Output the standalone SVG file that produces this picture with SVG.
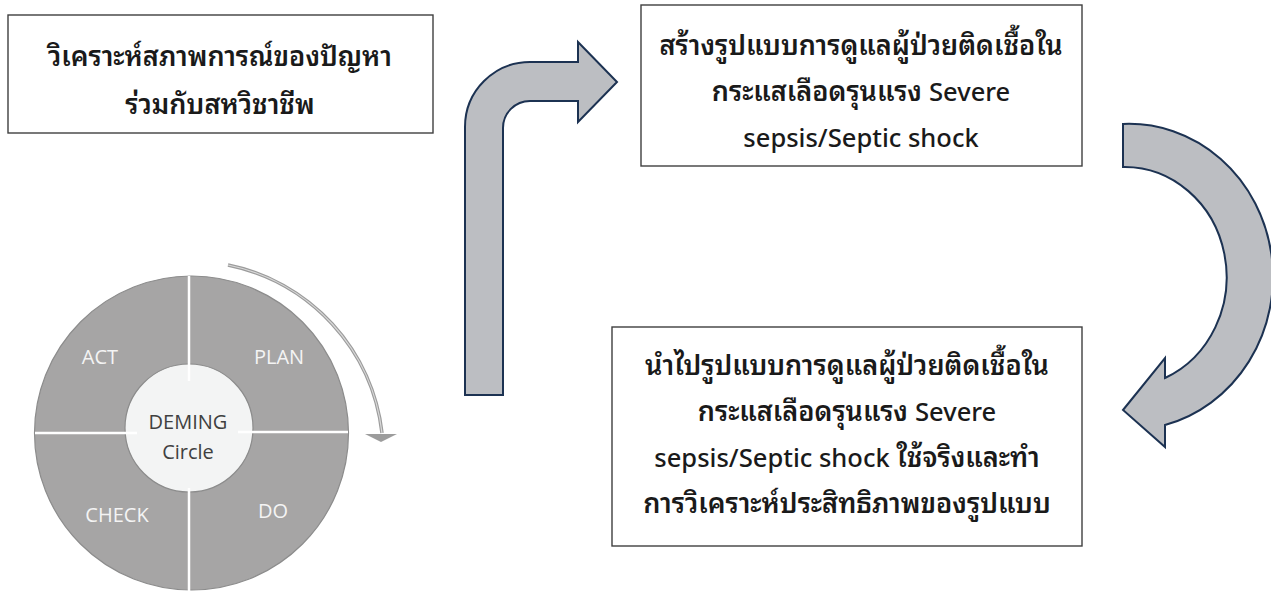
<svg xmlns="http://www.w3.org/2000/svg" width="1271" height="592" viewBox="0 0 1271 592">
<style>
.box{fill:#ffffff;stroke:#3f3f3f;stroke-width:1.4}
.t{font-family:"Noto Sans Thai Looped","Noto Sans","Noto Sans Thai","DejaVu Sans",sans-serif;font-size:27px;font-weight:600;fill:#1a1a1a;text-anchor:middle}
.en{font-size:25.5px;font-weight:500}
.big{fill:#bcbec2;stroke:#1c3252;stroke-width:2;stroke-linejoin:miter}
.lbl{font-family:"Open Sans","Liberation Sans",sans-serif;font-size:20px;fill:#f4f4f4;text-anchor:middle}
.ctr{font-family:"Open Sans","Liberation Sans",sans-serif;font-size:20px;fill:#404040;text-anchor:middle}
.sep{stroke:#ffffff;stroke-width:2.5}
</style>
<rect width="1271" height="592" fill="#ffffff"/>
<g id="connectors">
<path class="big" d="M465 395 L465 127 A65 65 0 0 1 530 62 L578 62 L578 42 L617 82 L578 122 L578 101 L530 101 A27 27 0 0 0 503 128 L503 395 Z"/>
<path class="big" d="M1123 124 A144 153 0 0 1 1165 425 L1165 447 L1123 410 L1165 358 L1165 378 A102 110 0 0 0 1123 167 Z"/>
</g>
<g id="n1">
<rect class="box" x="8" y="15" width="425" height="118"/>
<text class="t" x="220" y="66">วิเคราะห์สภาพการณ์ของปัญหา</text>
<text class="t" x="220" y="114">ร่วมกับสหวิชาชีพ</text>
</g>
<g id="n2">
<rect class="box" x="641" y="5" width="441" height="161"/>
<text class="t" x="861" y="55">สร้างรูปแบบการดูแลผู้ป่วยติดเชื้อใน</text>
<text class="t" x="861" y="101">กระแสเลือดรุนแรง <tspan class="en">Severe</tspan></text>
<text class="t" x="861" y="147"><tspan class="en">sepsis/Septic shock</tspan></text>
</g>
<g id="n3">
<rect class="box" x="612" y="327" width="470" height="219"/>
<text class="t" x="847" y="375">นำไปรูปแบบการดูแลผู้ป่วยติดเชื้อใน</text>
<text class="t" x="847" y="421">กระแสเลือดรุนแรง <tspan class="en">Severe</tspan></text>
<text class="t" x="847" y="467"><tspan class="en">sepsis/Septic shock</tspan> ใช้จริงและทำ</text>
<text class="t" x="847" y="513">การวิเคราะห์ประสิทธิภาพของรูปแบบ</text>
</g>
<g id="deming">
<path d="M228 265 A194 194 0 0 1 382 433" fill="none" stroke="#9c9c9c" stroke-width="3.5"/>
<path d="M228 265 A194 194 0 0 1 382 433" fill="none" stroke="#d9d9d9" stroke-width="1.2"/>
<polygon points="365,434 397,434 381,442" fill="#9c9c9c"/>
<circle cx="191.5" cy="433" r="157" fill="#a6a5a5" stroke="#8c8c8c" stroke-width="1.2"/>
<circle cx="189" cy="428" r="64" fill="#f3f4f4" stroke="#8c8c8c" stroke-width="1.2"/>
<line class="sep" x1="189" y1="276" x2="189" y2="381"/>
<line class="sep" x1="189" y1="488" x2="189" y2="592"/>
<line class="sep" x1="35" y1="433" x2="137" y2="433"/>
<line class="sep" x1="238" y1="432" x2="348" y2="432"/>
<text class="lbl" x="100" y="364">ACT</text>
<text class="lbl" x="279" y="364">PLAN</text>
<text class="lbl" x="117" y="522">CHECK</text>
<text class="lbl" x="273" y="518">DO</text>
<text class="ctr" x="188" y="429">DEMING</text>
<text class="ctr" x="188" y="459">Circle</text>
</g>
</svg>
